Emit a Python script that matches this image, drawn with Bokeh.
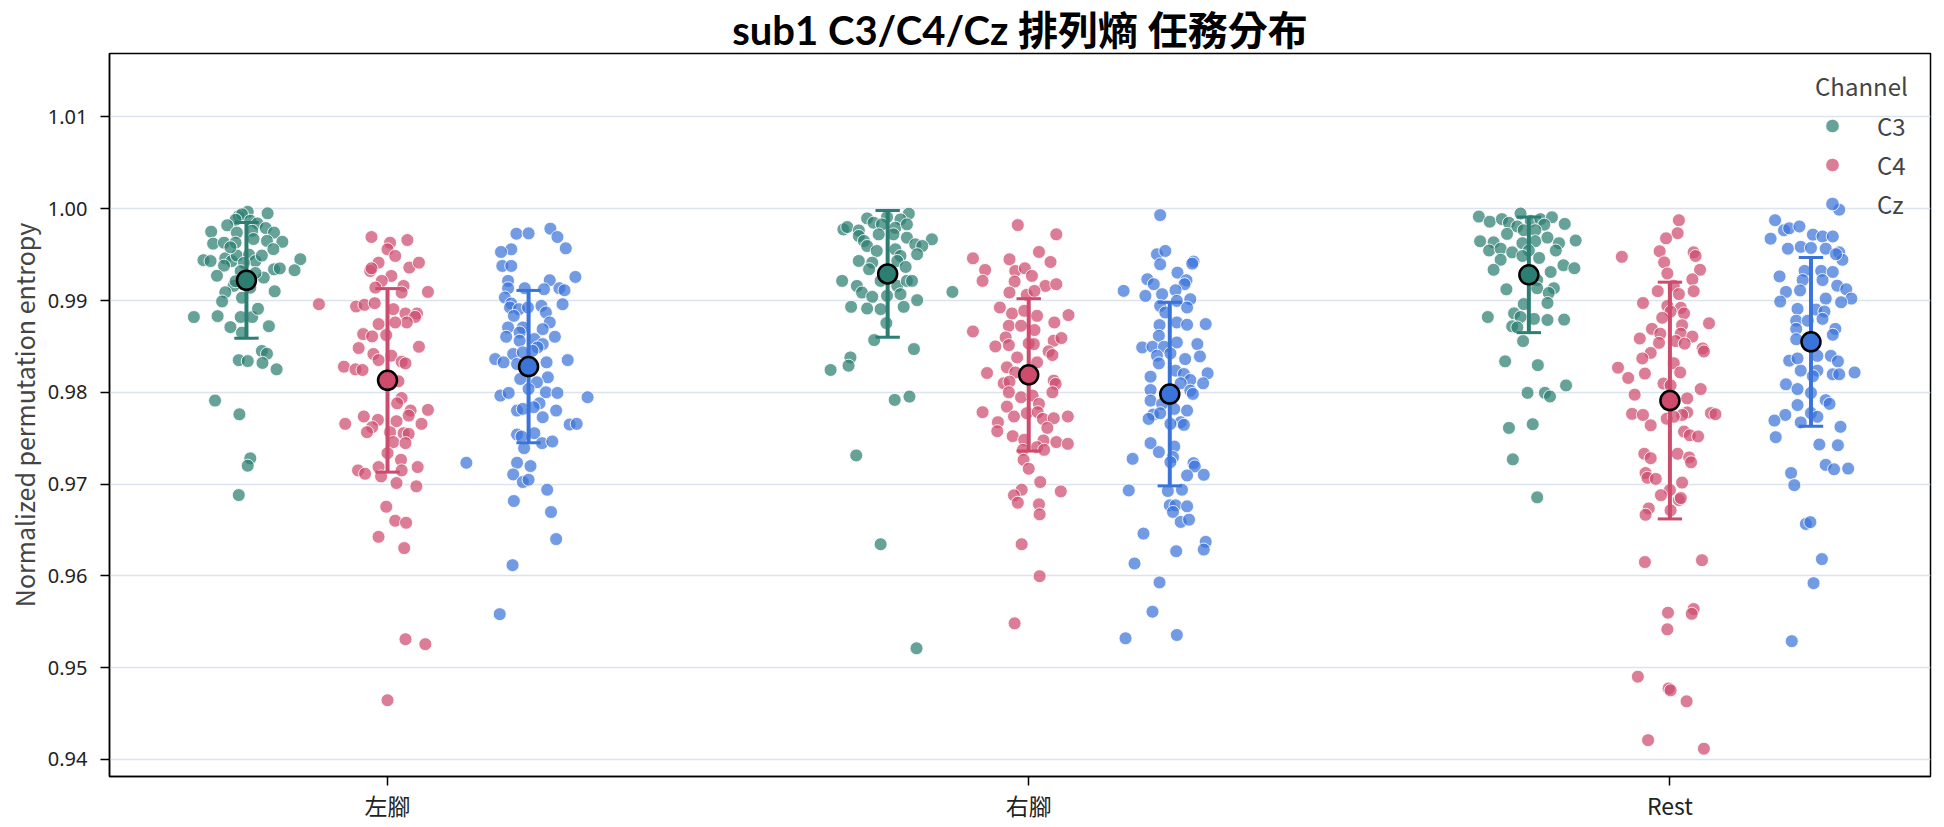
from bokeh.plotting import figure
from bokeh.models import FixedTicker, PrintfTickFormatter, Legend, LegendItem, Range1d
from bokeh.embed import file_html
from bokeh.resources import INLINE

categories = ["左腳", "右腳", "Rest"]
channels = ["C3", "C4", "Cz"]
channel_colors = ["#2c7e72", "#cd4b6d", "#3b74d9"]
y_ticks = [0.94, 0.95, 0.96, 0.97, 0.98, 0.99, 1.00, 1.01]

# (value, horizontal jitter in category units)
left_c3 = [(0.99967,0.002),(0.99950,0.033),(0.99920,-0.012),(0.99940,-0.007),(0.99880,-0.017),(0.99870,0.006),(0.99840,0.017),(0.99750,-0.055),(0.99820,-0.030),(0.99740,-0.015),(0.99760,0.009),(0.99790,0.030),(0.99740,0.043),(0.99620,-0.052),(0.99630,-0.035),(0.99630,-0.017),(0.99670,0.011),(0.99650,0.032),(0.99640,0.056),(0.99560,0.042),(0.99440,-0.067),(0.99430,-0.056),(0.99460,-0.033),(0.99430,-0.023),(0.99490,-0.015),(0.99500,0.004),(0.99430,0.014),(0.99490,0.024),(0.99450,0.084),(0.99380,-0.035),(0.99410,-0.004),(0.99340,0.043),(0.99350,0.052),(0.99330,0.075),(0.99270,-0.046),(0.99250,0.027),(0.99160,-0.020),(0.99090,-0.033),(0.99140,0.006),(0.99100,0.044),(0.98990,-0.038),(0.99030,-0.007),(0.98820,-0.082),(0.98830,-0.045),(0.98820,-0.009),(0.98820,0.009),(0.98910,0.018),(0.98710,-0.025),(0.98650,-0.007),(0.98720,0.035),(0.98450,0.024),(0.98420,0.032),(0.98350,-0.012),(0.98340,0.002),(0.98320,0.025),(0.98250,0.047),(0.97910,-0.049),(0.97760,-0.011),(0.97280,0.006),(0.97200,0.002),(0.96880,-0.012),(0.99580,-0.025),(0.99320,-0.009),(0.99300,0.014),(0.99210,-0.017)]

left_c4 = [(0.99692,-0.025),(0.99630,0.004),(0.99659,0.031),(0.99558,0.000),(0.99486,0.012),(0.99413,-0.014),(0.99322,-0.027),(0.99351,-0.025),(0.99359,0.034),(0.99413,0.049),(0.99268,0.006),(0.99214,-0.009),(0.99141,-0.019),(0.99159,0.025),(0.99087,0.022),(0.99094,0.063),(0.98960,-0.107),(0.98935,-0.049),(0.98953,-0.036),(0.98971,-0.020),(0.98906,0.009),(0.98859,0.028),(0.98859,0.046),(0.98822,0.043),(0.98761,0.030),(0.98743,-0.014),(0.98761,0.012),(0.98634,-0.038),(0.98609,-0.024),(0.98623,-0.002),(0.98496,0.049),(0.98482,-0.045),(0.98417,-0.022),(0.98351,-0.014),(0.98399,0.006),(0.98333,0.022),(0.98315,0.028),(0.98279,-0.068),(0.98250,-0.050),(0.98243,-0.039),(0.98120,0.017),(0.97938,0.022),(0.97880,0.015),(0.97801,0.036),(0.97808,0.063),(0.97746,0.033),(0.97736,-0.037),(0.97656,-0.066),(0.97699,-0.015),(0.97620,-0.024),(0.97565,-0.032),(0.97685,0.014),(0.97565,0.004),(0.97554,0.025),(0.97547,0.033),(0.97656,0.053),(0.97457,0.009),(0.97446,0.028),(0.97337,0.000),(0.97264,0.021),(0.97149,-0.046),(0.97112,-0.035),(0.97185,-0.014),(0.97149,0.022),(0.97185,0.047),(0.97083,-0.010),(0.97011,0.014),(0.96975,0.045),(0.96753,-0.002),(0.96600,0.012),(0.96578,0.029),(0.96425,-0.014),(0.96302,0.026),(0.95309,0.028),(0.95255,0.059),(0.94644,0.000)]

left_cz = [(0.99783,0.034),(0.99728,-0.019),(0.99732,0.000),(0.99692,0.045),(0.99558,-0.027),(0.99529,-0.043),(0.99569,0.058),(0.99377,-0.041),(0.99377,-0.027),(0.99257,0.073),(0.99221,0.033),(0.99214,-0.032),(0.99134,-0.032),(0.99134,-0.006),(0.99123,0.024),(0.99134,0.048),(0.99112,0.056),(0.99033,-0.037),(0.98967,-0.027),(0.98960,0.053),(0.98942,0.020),(0.98924,-0.029),(0.98906,-0.015),(0.98870,0.027),(0.98833,-0.023),(0.98924,-0.001),(0.98761,0.033),(0.98707,-0.009),(0.98707,-0.032),(0.98688,0.022),(0.98605,-0.035),(0.98652,-0.014),(0.98580,0.009),(0.98605,0.041),(0.98562,-0.014),(0.98525,0.022),(0.98489,0.014),(0.98453,0.006),(0.98417,-0.024),(0.98362,-0.052),(0.98326,-0.039),(0.98351,0.061),(0.98308,-0.018),(0.98326,0.028),(0.98435,-0.009),(0.98145,-0.013),(0.98163,0.030),(0.98109,0.013),(0.97964,-0.044),(0.97993,-0.031),(0.98036,0.000),(0.98000,0.027),(0.97993,0.045),(0.97946,0.092),(0.97880,0.017),(0.97801,-0.018),(0.97819,-0.009),(0.97837,0.008),(0.97801,0.043),(0.97728,0.022),(0.97649,0.064),(0.97656,0.075),(0.97540,-0.018),(0.97518,-0.011),(0.97554,0.009),(0.97446,0.021),(0.97464,0.037),(0.97391,-0.007),(0.97232,-0.097),(0.97232,-0.018),(0.97196,0.003),(0.97105,-0.024),(0.97022,-0.009),(0.97047,0.000),(0.96938,0.029),(0.96815,-0.023),(0.96695,0.035),(0.96400,0.043),(0.96116,-0.025),(0.95582,-0.045)]

right_c3 = [(0.99946,0.033),(0.99884,0.020),(0.99909,-0.001),(0.99895,-0.032),(0.99848,-0.022),(0.99775,-0.069),(0.99801,-0.063),(0.99764,-0.045),(0.99830,-0.009),(0.99793,0.012),(0.99830,0.030),(0.99721,-0.014),(0.99721,0.009),(0.99703,-0.045),(0.99685,0.030),(0.99667,0.069),(0.99649,-0.037),(0.99612,0.043),(0.99594,0.054),(0.99594,-0.032),(0.99540,-0.017),(0.99558,0.012),(0.99504,0.046),(0.99486,0.020),(0.99431,-0.045),(0.99413,-0.024),(0.99431,0.015),(0.99366,0.028),(0.99341,-0.029),(0.99214,-0.071),(0.99159,-0.048),(0.99214,-0.011),(0.99159,0.015),(0.99214,0.030),(0.99214,0.038),(0.99087,-0.040),(0.99040,-0.024),(0.99051,-0.001),(0.99069,0.020),(0.99004,0.046),(0.99094,0.101),(0.98931,-0.057),(0.98913,-0.032),(0.98906,-0.011),(0.98931,0.025),(0.98754,-0.002),(0.98569,-0.021),(0.98471,0.041),(0.98380,-0.058),(0.98290,-0.061),(0.98243,-0.089),(0.97917,0.011),(0.97953,0.034),(0.97312,-0.049),(0.96344,-0.011),(0.95210,0.045)]

right_c4 = [(0.99822,-0.017),(0.99721,0.043),(0.99529,0.016),(0.99460,-0.087),(0.99449,-0.030),(0.99420,0.034),(0.99333,-0.068),(0.99322,-0.021),(0.99351,-0.006),(0.99268,0.005),(0.99214,-0.072),(0.99207,-0.022),(0.99159,0.026),(0.99178,0.043),(0.99087,-0.030),(0.99062,-0.003),(0.99105,0.009),(0.98924,-0.045),(0.98859,-0.026),(0.98888,-0.007),(0.98833,0.013),(0.98841,0.062),(0.98761,0.040),(0.98725,-0.031),(0.98725,-0.012),(0.98678,0.009),(0.98663,-0.087),(0.98598,-0.036),(0.98562,0.039),(0.98591,0.051),(0.98500,-0.052),(0.98514,-0.031),(0.98533,0.000),(0.98525,0.008),(0.98446,0.031),(0.98406,0.037),(0.98380,-0.018),(0.98326,0.013),(0.98272,-0.034),(0.98210,-0.065),(0.98217,-0.021),(0.98098,-0.039),(0.98116,-0.030),(0.98127,0.039),(0.98091,0.042),(0.98000,-0.031),(0.98000,0.037),(0.97946,-0.012),(0.97964,0.006),(0.97844,-0.034),(0.97873,0.016),(0.97783,-0.072),(0.97736,-0.023),(0.97772,-0.003),(0.97783,0.014),(0.97710,0.022),(0.97717,0.039),(0.97736,0.061),(0.97674,-0.048),(0.97612,0.029),(0.97576,-0.049),(0.97522,-0.025),(0.97482,-0.007),(0.97475,0.023),(0.97457,0.043),(0.97438,0.061),(0.97373,-0.009),(0.97402,0.013),(0.97373,0.024),(0.97264,-0.008),(0.97167,0.000),(0.97022,0.018),(0.96938,-0.011),(0.96877,-0.023),(0.96920,0.050),(0.96797,-0.017),(0.96779,0.016),(0.96670,0.017),(0.96344,-0.011),(0.95996,0.017),(0.95482,-0.022)]

right_cz = [(0.99931,-0.015),(0.99504,-0.020),(0.99540,-0.007),(0.99395,-0.015),(0.99424,0.037),(0.99402,0.035),(0.99304,0.012),(0.99232,-0.035),(0.99178,-0.025),(0.99221,0.026),(0.99178,0.023),(0.99105,-0.072),(0.99051,-0.038),(0.99069,-0.012),(0.99112,0.009),(0.99014,0.032),(0.98942,-0.015),(0.98996,0.011),(0.98924,0.027),(0.98870,-0.007),(0.98743,0.056),(0.98732,-0.016),(0.98761,0.011),(0.98736,0.027),(0.98616,-0.017),(0.98543,0.011),(0.98525,0.043),(0.98489,-0.043),(0.98496,-0.027),(0.98496,-0.009),(0.98399,-0.020),(0.98424,0.001),(0.98391,0.047),(0.98362,0.024),(0.98315,-0.017),(0.98236,0.009),(0.98207,0.059),(0.98170,-0.030),(0.98199,0.022),(0.98134,0.032),(0.98098,0.017),(0.98098,0.052),(0.98025,-0.030),(0.98018,0.032),(0.97982,0.036),(0.97909,-0.030),(0.97873,-0.012),(0.97819,0.007),(0.97801,0.027),(0.97757,-0.026),(0.97772,-0.015),(0.97710,-0.033),(0.97674,0.017),(0.97645,0.022),(0.97656,0.001),(0.97446,-0.030),(0.97348,-0.017),(0.97409,0.007),(0.97275,-0.058),(0.97293,0.005),(0.97239,0.001),(0.97228,0.037),(0.97192,0.039),(0.97094,0.027),(0.97101,0.053),(0.96931,-0.064),(0.96924,-0.003),(0.96938,0.019),(0.96768,0.000),(0.96768,0.009),(0.96757,0.027),(0.96696,0.005),(0.96587,0.017),(0.96612,0.030),(0.96460,-0.041),(0.96370,0.056),(0.96286,0.053),(0.96268,0.010),(0.96134,-0.055),(0.95928,-0.016),(0.95609,-0.027),(0.95319,-0.069),(0.95355,0.011)]

rest_c3 = [(0.99915,-0.078),(0.99859,-0.061),(0.99887,-0.042),(0.99847,-0.031),(0.99948,-0.013),(0.99867,0.003),(0.99887,0.018),(0.99907,0.036),(0.99827,0.024),(0.99835,0.056),(0.99807,-0.018),(0.99766,-0.008),(0.99726,-0.034),(0.99766,0.010),(0.99646,-0.076),(0.99634,-0.055),(0.99625,-0.010),(0.99646,0.010),(0.99686,0.029),(0.99625,0.047),(0.99654,0.073),(0.99545,-0.062),(0.99565,-0.044),(0.99525,-0.026),(0.99545,0.000),(0.99545,0.042),(0.99444,-0.044),(0.99485,-0.010),(0.99464,0.016),(0.99335,-0.055),(0.99384,0.054),(0.99352,0.071),(0.99311,0.034),(0.99223,0.013),(0.99122,-0.035),(0.99134,0.013),(0.99134,0.039),(0.99082,0.031),(0.98961,-0.008),(0.98973,0.029),(0.98820,-0.064),(0.98860,-0.023),(0.98820,-0.013),(0.98800,0.008),(0.98788,0.029),(0.98792,0.055),(0.98719,-0.026),(0.98707,-0.018),(0.98558,-0.009),(0.98337,-0.037),(0.98296,0.014),(0.98075,0.058),(0.97994,-0.002),(0.97994,0.025),(0.97954,0.033),(0.97612,-0.031),(0.97652,0.006),(0.97269,-0.025),(0.96855,0.013)]

rest_c4 = [(0.99875,0.014),(0.99734,0.012),(0.99678,-0.006),(0.99476,-0.075),(0.99537,-0.016),(0.99525,0.037),(0.99485,0.040),(0.99416,-0.009),(0.99335,0.047),(0.99295,-0.004),(0.99231,0.035),(0.99162,0.006),(0.99102,-0.019),(0.99102,0.037),(0.99070,0.014),(0.98973,-0.042),(0.98941,-0.004),(0.98921,0.017),(0.98880,0.001),(0.98860,0.022),(0.98812,-0.012),(0.98752,0.061),(0.98731,0.019),(0.98691,-0.028),(0.98639,-0.015),(0.98639,0.017),(0.98586,-0.047),(0.98607,0.035),(0.98538,-0.017),(0.98558,0.009),(0.98530,0.023),(0.98478,0.051),(0.98445,0.053),(0.98429,-0.030),(0.98369,-0.043),(0.98317,0.006),(0.98268,-0.081),(0.98216,0.016),(0.98204,-0.039),(0.98156,-0.065),(0.98095,-0.010),(0.98075,0.001),(0.98035,0.048),(0.97974,-0.055),(0.97934,0.027),(0.97765,-0.059),(0.97753,-0.042),(0.97781,0.027),(0.97753,0.019),(0.97773,0.064),(0.97761,0.071),(0.97712,-0.005),(0.97733,0.006),(0.97640,-0.030),(0.97572,0.022),(0.97531,0.031),(0.97519,0.044),(0.97330,0.012),(0.97330,-0.040),(0.97282,-0.030),(0.97290,0.030),(0.97237,0.033),(0.97120,-0.038),(0.97068,-0.035),(0.97056,-0.022),(0.97016,0.019),(0.96935,0.000),(0.96879,-0.014),(0.96826,0.014),(0.96847,0.017),(0.96734,-0.033),(0.96665,-0.038),(0.96714,0.001),(0.96150,-0.039),(0.96170,0.050),(0.95598,-0.003),(0.95638,0.037),(0.95586,0.034),(0.95417,-0.004),(0.94901,-0.050),(0.94773,-0.002),(0.94752,0.001),(0.94632,0.026),(0.94209,-0.034),(0.94116,0.053)]

rest_cz = [(0.99990,0.044),(0.99875,-0.056),(0.99766,-0.042),(0.99787,-0.034),(0.99807,-0.018),(0.99718,0.003),(0.99698,0.018),(0.99698,0.034),(0.99674,-0.063),(0.99565,-0.036),(0.99585,-0.016),(0.99573,0.000),(0.99565,0.023),(0.99525,0.044),(0.99444,0.049),(0.99505,0.039),(0.99323,-0.010),(0.99323,0.016),(0.99311,0.034),(0.99263,-0.049),(0.99223,-0.013),(0.99223,0.018),(0.99162,0.041),(0.99122,0.055),(0.99094,-0.039),(0.99110,-0.017),(0.99021,0.063),(0.98989,-0.048),(0.99021,0.023),(0.98981,0.047),(0.98909,-0.021),(0.98901,0.008),(0.98880,0.021),(0.98780,-0.023),(0.98780,-0.005),(0.98800,0.018),(0.98691,-0.023),(0.98691,0.038),(0.98627,0.034),(0.98578,-0.023),(0.98397,0.010),(0.98397,0.031),(0.98345,-0.034),(0.98369,-0.021),(0.98337,0.042),(0.98236,-0.016),(0.98236,0.010),(0.98176,0.003),(0.98196,0.034),(0.98196,0.044),(0.98216,0.068),(0.98087,-0.039),(0.98035,-0.021),(0.97994,0.000),(0.97914,0.023),(0.97874,0.029),(0.97861,-0.021),(0.97753,-0.040),(0.97692,-0.057),(0.97773,0.000),(0.97733,0.010),(0.97672,-0.016),(0.97624,0.046),(0.97511,-0.055),(0.97431,0.013),(0.97423,0.042),(0.97209,0.023),(0.97161,0.036),(0.97169,0.058),(0.97120,-0.031),(0.96988,-0.026),(0.96565,-0.008),(0.96585,-0.001),(0.96182,0.017),(0.95920,0.004),(0.95288,-0.030)]

# mean and standard deviation per category (左腳, 右腳, Rest)
mean_c3 = [0.9922, 0.9929, 0.9928]
sd_c3 = [0.0063, 0.0069, 0.0063]
mean_c4 = [0.9813, 0.9819, 0.9791]
sd_c4 = [0.0100, 0.0083, 0.0129]
mean_cz = [0.9828, 0.9798, 0.9855]
sd_cz = [0.0083, 0.0100, 0.0092]

points = {"C3": [left_c3, right_c3, rest_c3],
          "C4": [left_c4, right_c4, rest_c4],
          "Cz": [left_cz, right_cz, rest_cz]}
stats = {"C3": (mean_c3, sd_c3), "C4": (mean_c4, sd_c4), "Cz": (mean_cz, sd_cz)}
dodge = {"C3": -0.22, "C4": 0.0, "Cz": 0.22}
cap_half = 0.019

FONT = "Noto Sans CJK TC"
NUMFONT = "Noto Sans"

p = figure(width=1944, height=827, output_backend="svg", toolbar_location=None,
           x_range=Range1d(-0.4336, 2.4064), y_range=Range1d(0.93813, 1.01692),
           min_border_left=109, min_border_right=14, min_border_top=53, min_border_bottom=51,
           background_fill_color="white", border_fill_color="white")

p.title.text = "sub1 C3/C4/Cz 排列熵 任務分布"
p.title.align = "center"
p.title.text_font = "Lato, Noto Sans CJK TC"
p.title.text_font_size = "40px"
p.title.text_font_style = "bold"
p.title.text_color = "black"
p.title.standoff = 0

p.outline_line_color = "black"
p.outline_line_width = 1.5
p.outline_line_alpha = 1.0

p.xgrid.visible = False
p.ygrid.grid_line_color = "#dbe4ee"
p.ygrid.grid_line_width = 1.5

p.xaxis.ticker = FixedTicker(ticks=[0, 1, 2])
p.xaxis.major_label_overrides = {i: c for i, c in enumerate(categories)}
p.yaxis.ticker = FixedTicker(ticks=y_ticks)
p.yaxis.formatter = PrintfTickFormatter(format="%.2f")
for ax in (p.xaxis[0], p.yaxis[0]):
    ax.axis_line_color = "black"
    ax.axis_line_width = 1.5
    ax.major_tick_line_color = "black"
    ax.major_tick_line_width = 1.5
    ax.major_tick_out = 9
    ax.major_tick_in = 0
    ax.minor_tick_line_color = None
    ax.major_label_text_color = "#222222"
p.xaxis.major_label_text_font = FONT
p.xaxis.major_label_text_font_size = "23px"
p.xaxis.major_label_standoff = 2
p.yaxis.major_label_text_font = NUMFONT
p.yaxis.major_label_text_font_size = "20px"
p.yaxis.major_label_standoff = 13
p.yaxis.axis_label = "Normalized permutation entropy"
p.yaxis.axis_label_text_font = FONT
p.yaxis.axis_label_text_font_size = "25px"
p.yaxis.axis_label_text_font_style = "normal"
p.yaxis.axis_label_standoff = 3

point_renderers = {}
for ch, col in zip(channels, channel_colors):
    xs, ys = [], []
    for ci, pts in enumerate(points[ch]):
        for v, j in pts:
            xs.append(ci + dodge[ch] + j)
            ys.append(v)
    r = p.scatter(xs, ys, marker="circle", size=13, fill_color=col, fill_alpha=0.72,
                  line_color="white", line_alpha=0.85, line_width=1)
    point_renderers[ch] = r

for ch, col in zip(channels, channel_colors):
    m, s = stats[ch]
    xc = [ci + dodge[ch] for ci in range(len(categories))]
    lo = [a - b for a, b in zip(m, s)]
    hi = [a + b for a, b in zip(m, s)]
    p.segment(x0=xc, y0=lo, x1=xc, y1=hi, line_color=col, line_width=4)
    p.segment(x0=[x - cap_half for x in xc], y0=hi, x1=[x + cap_half for x in xc], y1=hi,
              line_color=col, line_width=3)
    p.segment(x0=[x - cap_half for x in xc], y0=lo, x1=[x + cap_half for x in xc], y1=lo,
              line_color=col, line_width=3)
    p.scatter(xc, m, marker="circle", size=19, fill_color=col, line_color="black", line_width=2.5)

legend = Legend(items=[LegendItem(label=ch, renderers=[point_renderers[ch]]) for ch in channels],
                location="top_right", title="Channel")
legend.title_text_font = FONT
legend.title_text_font_size = "24px"
legend.title_text_font_style = "normal"
legend.title_standoff = 3
legend.label_text_font = FONT
legend.label_text_font_size = "24px"
legend.label_standoff = 28
legend.label_width = 38
legend.glyph_width = 34
legend.glyph_height = 39
legend.label_height = 39
legend.spacing = 0
legend.padding = 8
legend.margin = 15
legend.border_line_color = None
legend.background_fill_alpha = 0
p.add_layout(legend)

open("out.html", "w").write(file_html(p, INLINE))
